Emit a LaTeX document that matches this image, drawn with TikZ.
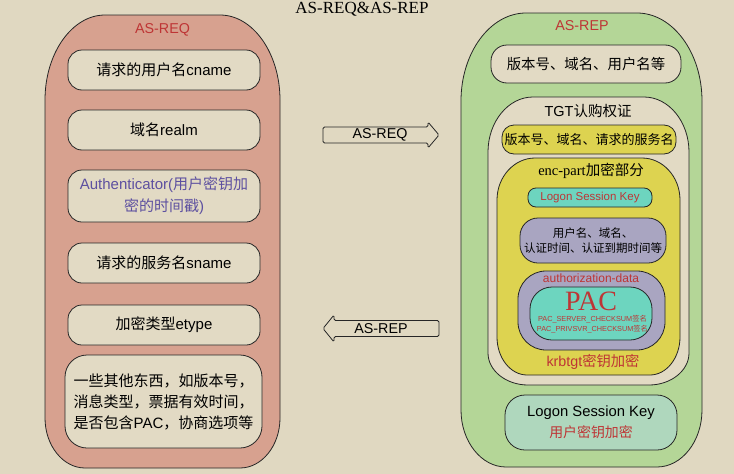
\documentclass[tikz,border=0pt]{standalone}
\usepackage{fontspec}
\setmainfont{Liberation Sans}
\newfontfamily\cjk{Noto Sans CJK SC}
\newfontfamily\serfont{Liberation Serif}
\newcommand{\zh}[1]{{\cjk #1}}
\definecolor{bgc}{HTML}{E0D8C1}
\definecolor{salmon}{HTML}{D7A18F}
\definecolor{boxbeige}{HTML}{E2DAC4}
\definecolor{greenc}{HTML}{B4D697}
\definecolor{yellowc}{HTML}{DDD350}
\definecolor{tealc}{HTML}{6DD5BF}
\definecolor{purplec}{HTML}{A9A5C1}
\definecolor{mintc}{HTML}{AFD7BD}
\definecolor{redtxt}{HTML}{BE3535}
\definecolor{purtxt}{HTML}{5D50A0}
% #1 style, #2 x1, #3 y1, #4 x2, #5 y2, #6 rxTop, #7 ryTop, #8 rxBot, #9 ryBot
\newcommand\blobshape[9]{%
\path[#1] (#2,#3+#7) .. controls (#2,#3+0.45*#7) and (#2+0.45*#6,#3) .. (#2+#6,#3)
 -- (#4-#6,#3) .. controls (#4-0.45*#6,#3) and (#4,#3+0.45*#7) .. (#4,#3+#7)
 -- (#4,#5-#9) .. controls (#4,#5-0.45*#9) and (#4-0.45*#8,#5) .. (#4-#8,#5)
 -- (#2+#8,#5) .. controls (#2+0.45*#8,#5) and (#2,#5-0.45*#9) .. (#2,#5-#9) -- cycle;}
\tikzset{
  outline/.style={draw=black!85,line width=0.8pt},
  lbox/.style={outline,fill=boxbeige,rounded corners=14,align=center,inner sep=0pt,
     font=\fontsize{15}{21}\selectfont},
  arrowshape/.style={outline,fill=bgc,rounded corners=1.5},
  arrowtxt/.style={font=\fontsize{14.3}{16}\selectfont,inner sep=0pt},
  redlbl/.style={text=redtxt,inner sep=0pt},
}
\begin{document}
\begin{tikzpicture}[x=1pt,y=-1pt]
\fill[bgc] (0,0) rectangle (734,474);
\useasboundingbox (0,0) rectangle (734,474);

% title
\node[font=\serfont\fontsize{17}{17}\selectfont,anchor=base,inner sep=0pt] (title) at (362,13.5) {AS-REQ\&AS-REP};

% ===== left: AS-REQ =====
\blobshape{outline,fill=salmon}{45}{15}{280}{468}{60}{85}{40}{50}
\node[redlbl,font=\fontsize{14.3}{16}\selectfont] (reqtitle) at (162.5,30) {AS-REQ};
\node[lbox,minimum width=192,minimum height=40] (cname) at (164,70) {\zh{请求的用户名}cname};
\node[lbox,minimum width=192,minimum height=40] (realm) at (164,130) {\zh{域名}realm};
\node[lbox,minimum width=192,minimum height=52,text=purtxt,font=\fontsize{15}{22}\selectfont] (auth) at (164,196)
  {Authenticator(\zh{用户密钥加}\\\zh{密的时间戳})};
\node[lbox,minimum width=192,minimum height=40] (sname) at (164,263) {\zh{请求的服务名}sname};
\node[lbox,minimum width=192,minimum height=40] (etype) at (164,325) {\zh{加密类型}etype};
\node[lbox,minimum width=197,minimum height=93,rounded corners=22] (other) at (163.5,401.5)
  {\zh{一些其他东西，如版本号，}\\\zh{消息类型，票据有效时间，}\\\zh{是否包含}PAC\zh{，协商选项等}};

% ===== arrows =====
\draw[arrowshape] (323,127) -- (428,127) -- (428,122) -- (439,135) -- (428,148) -- (428,143) -- (323,143) -- cycle;
\node[arrowtxt] (reqarrow) at (380,135) {AS-REQ};
\draw[arrowshape] (439,320.5) -- (334,320.5) -- (334,315) -- (323,328.5) -- (334,342) -- (334,336.5) -- (439,336.5) -- cycle;
\node[arrowtxt] (reparrow) at (381,329) {AS-REP};

% ===== right: AS-REP =====
\blobshape{outline,fill=greenc}{461}{13}{702}{467}{65}{88}{45}{57}
\node[redlbl,font=\fontsize{14.3}{16}\selectfont] (reptitle) at (582,26) {AS-REP};
\node[lbox,minimum width=190,minimum height=38,rounded corners=16,font=\fontsize{14.4}{16}\selectfont] (ver1) at (586,64)
  {\zh{版本号、域名、用户名等}};

% TGT
\blobshape{outline,fill=boxbeige}{488}{97}{689}{385}{45}{55}{40}{32}
\node[inner sep=0pt,font=\fontsize{14.5}{16}\selectfont] (tgttitle) at (588,111) {TGT\zh{认购权证}};
\node[lbox,fill=yellowc,minimum width=174,minimum height=29,rounded corners=12,font=\fontsize{13}{15}\selectfont] (ver2) at (589,139.5)
  {\zh{版本号、域名、请求的服务名}};

% enc-part
\blobshape{outline,fill=yellowc}{497}{158}{680}{375}{38}{42}{30}{38}
\node[inner sep=0pt,font=\fontsize{14.5}{16}\selectfont] (enctitle) at (591,171) {{\serfont enc-part}\zh{加密部分}};
\node[lbox,fill=tealc,minimum width=124,minimum height=19,rounded corners=8,text=redtxt,font=\fontsize{11.5}{13}\selectfont] (lsk1) at (590,197.5)
  {Logon Session Key};
\node[lbox,fill=purplec,minimum width=146,minimum height=45,rounded corners=18,font=\fontsize{11.5}{15}\selectfont] (uinfo) at (593,240.5)
  {\zh{用户名、域名、}\\\zh{认证时间、认证到期时间等}};
\node[lbox,fill=purplec,minimum width=147,minimum height=79,rounded corners=28] (authdata) at (591.5,310.5) {};
\node[lbox,fill=tealc,minimum width=122,minimum height=53,rounded corners=22] (pacbox) at (591,313.5) {};
\node[redlbl,font=\fontsize{12}{14}\selectfont] (authlbl) at (591,278.5) {authorization-data};
\node[redlbl,font=\serfont\fontsize{28}{30}\selectfont] (pac) at (591,301) {PAC};
\node[redlbl,font=\fontsize{7.3}{10}\selectfont,align=center] (pacsig) at (592.5,324)
  {PAC\_SERVER\_CHECKSUM\zh{签名}\\PAC\_PRIVSVR\_CHECKSUM\zh{签名}};
\node[redlbl,font=\fontsize{14.3}{16}\selectfont] (krbtgt) at (593,362) {krbtgt\zh{密钥加密}};

% bottom Logon Session Key
\node[lbox,fill=mintc,minimum width=172,minimum height=55,rounded corners=20,font=\fontsize{14.8}{21}\selectfont] (lsk2) at (591,422.5)
  {Logon Session Key\\\textcolor{redtxt}{\fontsize{13.9}{21}\selectfont\zh{用户密钥加密}}};
\end{tikzpicture}
\end{document}
